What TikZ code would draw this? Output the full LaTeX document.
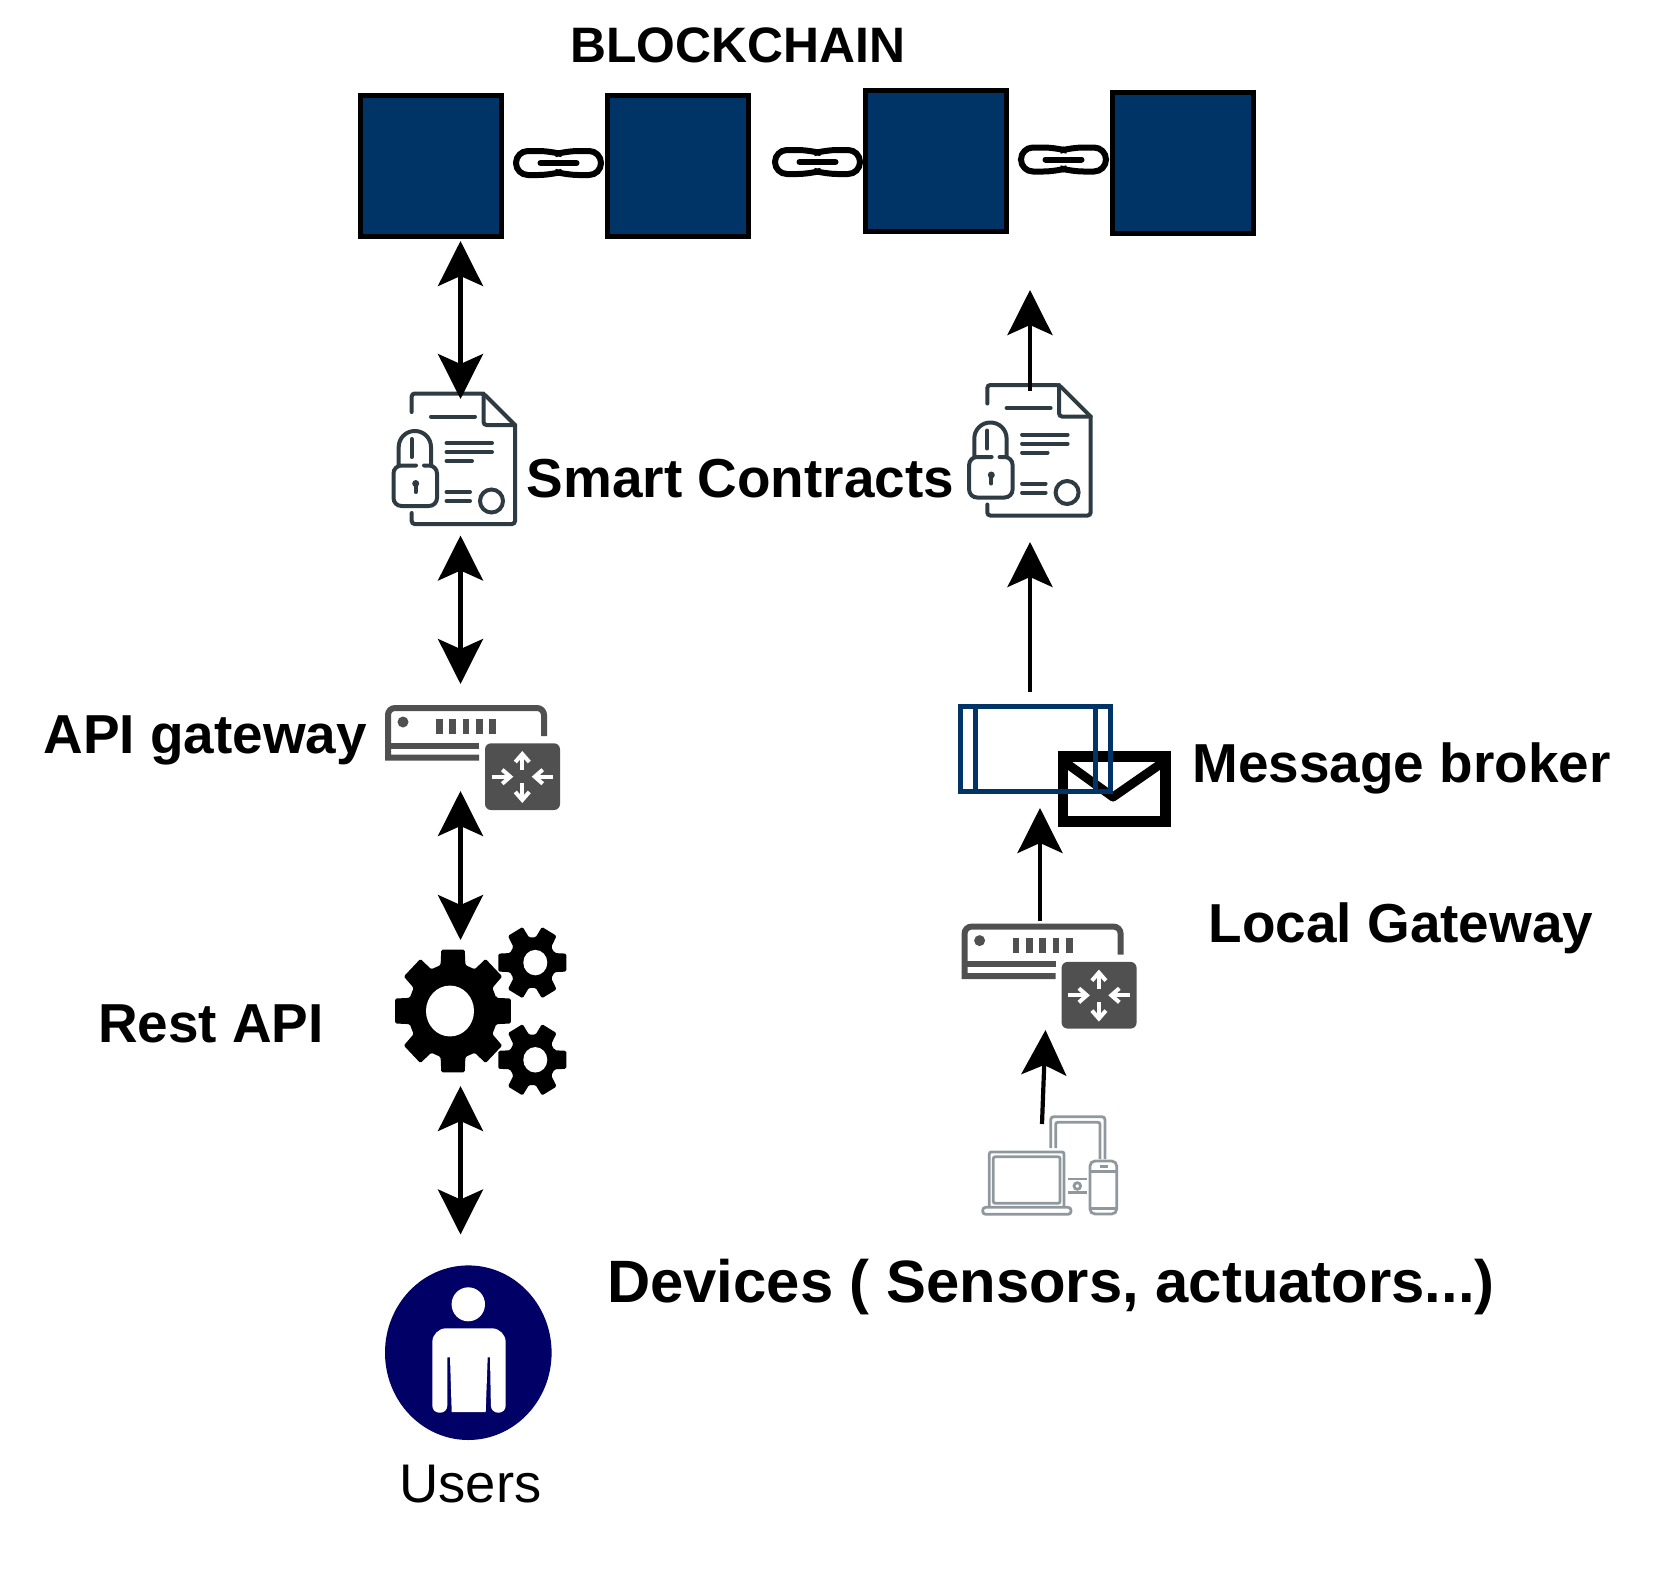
\documentclass[tikz,border=0pt]{standalone}
\usepackage{fontspec}
\setmainfont{Liberation Sans}
\usetikzlibrary{arrows.meta}

\definecolor{navyblock}{HTML}{003366}
\definecolor{inkcol}{HTML}{2F3B43}
\definecolor{boxcol}{HTML}{505050}
\definecolor{devcol}{HTML}{8F989C}
\definecolor{usercol}{HTML}{000066}

\tikzset{
  pics/contract/.style={code={
    \draw[ink] (41.7,42) [rounded corners=1.5pt] --(41.7,23.5)--(113.5,23.5) [sharp corners] --(145,55) [rounded corners=1.5pt] --(145,154)--(41.7,154)--(41.7,143);
    \draw[ink,rounded corners=1.5pt] (113.5,23.5)--(113.5,55)--(145,55);
    \draw[ink] (61,46.5)--(105,46.5);
    \draw[ink] (76.5,73)--(122,73);
    \draw[ink] (76.5,82)--(122,82);
    \draw[ink] (76.5,91)--(102,91);
    \draw[ink] (76.5,122)--(100,122);
    \draw[ink] (76.5,131)--(100,131);
    \draw[ink] (121.5,131) circle (11.5);
    \draw[ink,rounded corners=8pt] (28.7,95)--(28.7,61)--(61,61)--(61,95);
    \draw[ink,rounded corners=4pt] (46,95.5)--(23.5,95.5)--(23.5,136)--(67,136)--(67,95.5)--(54,95.5);
    \draw[ink] (41.7,69)--(41.7,87);
    \fill[inkcol] (45.7,113.5) circle (3.5);
    \draw[ink] (45.7,113.5)--(45.7,122);
  }},
  pics/router/.style={code={
    \draw[box] (174,46) [rounded corners=3.5pt] --(174,18)--(18,18) [sharp corners] --(18,67.5)--(109,67.5);
    \draw[box] (18,55.7)--(109,55.7);
    \fill[boxcol] (33,32) circle (5.5);
    \foreach \barx in {66,79.3,92.7,106,119.3}
      \fill[boxcol] (\barx,29.3) rectangle (\barx+6.7,44);
    \fill[boxcol,rounded corners=3pt] (115,53.3) rectangle (190,120);
    \draw[hop] (152.3,80)--(152.3,61);
    \draw[hop] (152.3,93.3)--(152.3,113);
    \draw[hop] (121.7,86.7)--(143.3,86.7);
    \draw[hop] (183.3,86.7)--(161.7,86.7);
  }},
  pics/chainlink/.style={code={
    \draw[link,rounded corners=6pt] (-1,10)--(-8,12)--(-42.5,12)--(-42.5,-12)--(-8,-12)--(-1,-10);
    \draw[link,rounded corners=6pt] (1,10)--(8,12)--(42.5,12)--(42.5,-12)--(8,-12)--(1,-10);
    \draw[link] (-18,0)--(18,0);
  }}
}

\begin{document}
\begin{tikzpicture}[x=0.5pt,y=-0.5pt,
  ink/.style={line width=2pt,inkcol,line cap=round},
  box/.style={line width=3pt,boxcol},
  hop/.style={line width=2pt,white,-{Straight Barb[length=4pt,width=7pt]}},
  link/.style={line width=3pt,black,line cap=round},
  dev/.style={line width=1.4pt,devcol},
  block/.style={draw=black,fill=navyblock,line width=2.5pt,minimum size=70.5pt,inner sep=0pt},
  tip/.tip={Stealth[length=22.5pt,width=22.5pt,inset=5pt]},
  both/.style={line width=2.1pt,{tip}-{tip}},
  up/.style={line width=2.1pt,-{tip}},
  lab/.style={font=\fontsize{27.45}{30}\selectfont\bfseries,anchor=base}]
  \useasboundingbox (0,0) rectangle (1656,1596);

  % blockchain row
  \node[lab,font=\fontsize{24.9}{28}\selectfont\bfseries] (title) at (737.9,62.4) {BLOCKCHAIN};
  \node[block] (blockA) at (431,165.5) {};
  \node[block] (blockB) at (677.5,165.5) {};
  \node[block] (blockC) at (936.3,160.5) {};
  \node[block] (blockD) at (1183,162.5) {};
  \pic at (558.5,163) {chainlink};
  \pic at (817.5,162) {chainlink};
  \pic at (1063.5,159.5) {chainlink};

  % icons
  \pic at (370,370) {contract};
  \pic at (945.6,361.5) {contract};
  \pic at (370,690) {router};
  \pic at (946.6,908.6) {router};

  % gears
  \foreach \gearx/\geary/\teeth/\outer/\base/\hole/\holex/\topang/\rootang in
    {453/1011/8/59/45/24/-3/11.5/16, 532.3/962.6/6/35/24/12/3/14/22, 532.3/1059.8/6/35/24/12/3/14/22}{
    \begin{scope}[shift={(\gearx,\geary)},yscale=1.06]
      \pgfmathsetmacro{\stepang}{360/\teeth}
      \fill[black,rounded corners=0.7pt] (-\rootang:\base)
        \foreach \tooth in {1,...,\teeth}{
          -- ({(\tooth-1)*\stepang-\rootang}:\base)
          -- ({(\tooth-1)*\stepang-\topang}:\outer)
          -- ({(\tooth-1)*\stepang+\topang}:\outer)
          -- ({(\tooth-1)*\stepang+\rootang}:\base)
        } -- cycle;
      \fill[white] (\holex,0) circle (\hole);
    \end{scope}
  }

  % message broker
  \draw[black,line width=5.2pt] (1063,756.5) rectangle (1165.5,821.5);
  \draw[black,line width=4.5pt,line join=round] (1066,763)--(1113,797)--(1162,763);
  \draw[navyblock,line width=2.5pt] (960.5,706) rectangle (1110.5,791.5);
  \draw[navyblock,line width=2.5pt] (975.7,706)--(975.7,791.5);
  \draw[navyblock,line width=2.5pt] (1095.7,706)--(1095.7,791.5);

  % devices
  \draw[dev,rounded corners=1pt] (989.3,1206.7)--(989.3,1152)--(1064,1152)--(1064,1206.7);
  \draw[dev,rounded corners=1pt] (993.3,1156.7) rectangle (1060,1203.3);
  \draw[dev,rounded corners=1.5pt] (982.7,1207.3) rectangle (1071,1214.3);
  \draw[dev,rounded corners=1.5pt] (1050.7,1148)--(1050.7,1116.7)--(1105,1116.7)--(1105,1159);
  \draw[dev,rounded corners=1pt] (1055.7,1148)--(1055.7,1122.3)--(1100,1122.3)--(1100,1159);
  \draw[dev,rounded corners=2.5pt] (1090,1161) rectangle (1116.7,1214);
  \draw[dev] (1090,1171.7)--(1116.7,1171.7);
  \draw[dev] (1090,1208.3)--(1116.7,1208.3);
  \draw[dev] (1100,1166.7)--(1108,1166.7);
  \draw[dev] (1068.3,1179)--(1086.7,1179);
  \draw[dev] (1068.3,1192.7)--(1086.7,1192.7);
  \draw[dev] (1077.3,1186) circle (3.3);

  % user
  \fill[usercol] (468.3,1352.7) ellipse (83.3 and 87.3);
  \fill[white] (468.3,1304.3) ellipse (16.7 and 17);
  \fill[white] (432.3,1346) [rounded corners=7pt] --(432.3,1328.3)--(505.7,1328.3) [sharp corners] --(505.7,1346)
    [rounded corners=3.5pt] --(505.7,1412.7)--(491,1412.7) [sharp corners] --(490,1357.3)--(487.7,1357.3)--(485.7,1412)--(451.7,1412)--(450,1357.3)--(447.3,1357.3)
    [rounded corners=3.5pt] --(447.3,1412.7)--(432.3,1412.7) [sharp corners] --cycle;

  % labels
  \node[lab] (smart) at (740.5,497.5) {Smart Contracts};
  \node[lab] (apigw) at (205.4,753) {API gateway};
  \node[lab] (rest) at (211,1042.4) {Rest API};
  \node[lab] (broker) at (1401.5,782.6) {Message broker};
  \node[lab] (localgw) at (1401,942) {Local Gateway};
  \node[lab,font=\fontsize{29.9}{33}\selectfont\bfseries] (devices) at (1051,1302) {Devices ( Sensors, actuators...)};
  \node[lab,font=\fontsize{27.2}{30}\selectfont] (users) at (470.5,1502) {Users};

  % connector ends
  \coordinate (a1) at (460.5,241);
  \coordinate (a2) at (460.5,399);
  \coordinate (b1) at (460.5,535.5);
  \coordinate (b2) at (460.5,684);
  \coordinate (c1) at (460.5,791);
  \coordinate (c2) at (460.5,940);
  \coordinate (d1) at (460.5,1086);
  \coordinate (d2) at (460.5,1234.5);
  \coordinate (e1) at (1030,391);
  \coordinate (e2) at (1030,290);
  \coordinate (f1) at (1030,692);
  \coordinate (f2) at (1030,542);
  \coordinate (g1) at (1040,921);
  \coordinate (g2) at (1040,808);
  \coordinate (h1) at (1042,1124);
  \coordinate (h2) at (1045.5,1030);

  \draw[both] (a1)--(a2);
  \draw[both] (b1)--(b2);
  \draw[both] (c1)--(c2);
  \draw[both] (d1)--(d2);
  \draw[up] (e1)--(e2);
  \draw[up] (f1)--(f2);
  \draw[up] (g1)--(g2);
  \draw[up] (h1)--(h2);
\end{tikzpicture}
\end{document}
